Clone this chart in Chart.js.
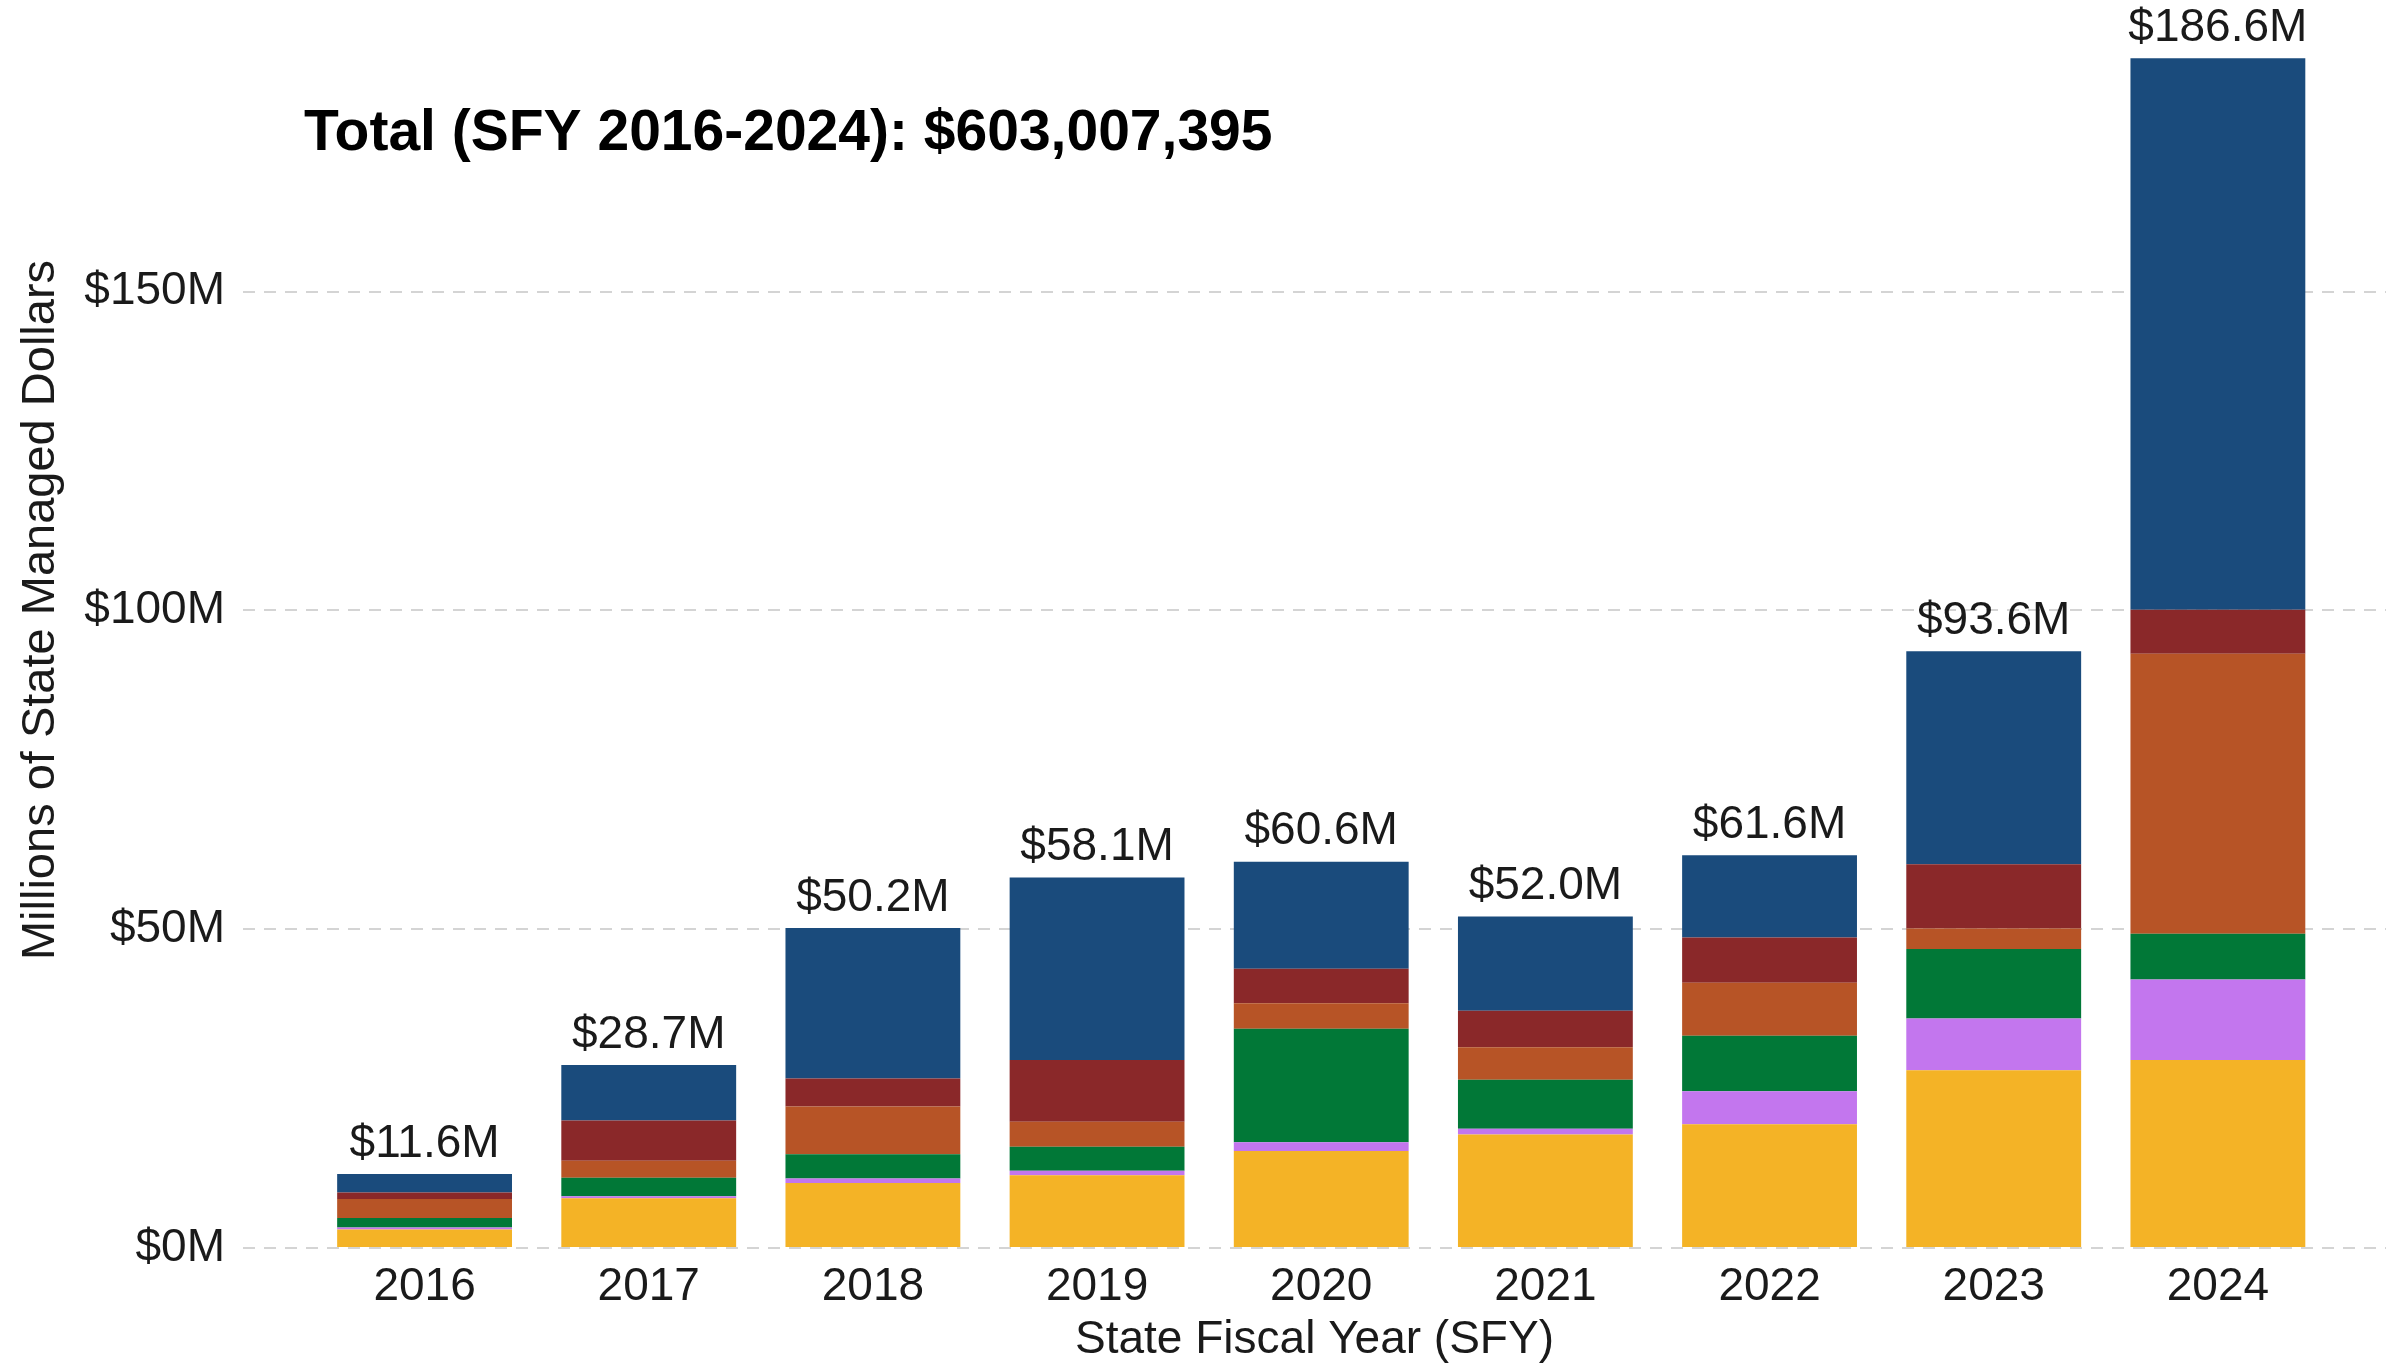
<!DOCTYPE html>
<html>
<head>
<meta charset="utf-8">
<title>State Managed Dollars by SFY</title>
<script src="https://cdn.jsdelivr.net/npm/chart.js@4.4.1/dist/chart.umd.min.js"></script>
<style>
  html, body { margin: 0; padding: 0; background: #fff; }
  canvas { display: block; }
</style>
</head>
<body>
<canvas id="chart-area" width="2386" height="1370"></canvas>
<script>
// data, millions of dollars, stacked bottom to top
var years = [2016, 2017, 2018, 2019, 2020, 2021, 2022, 2023, 2024];
var yellowVals = [2.9, 7.8, 10.2, 11.4, 15.2, 17.8, 19.4, 27.9, 29.5];
var purpleVals = [0.3, 0.3, 0.7, 0.7, 1.4, 0.9, 5.2, 8.1, 12.6];
var greenVals  = [1.5, 2.9, 3.8, 3.8, 17.8, 7.7, 8.7, 10.9, 7.2];
var orangeVals = [3.0, 2.7, 7.5, 3.9, 4.0, 5.1, 8.3, 3.2, 43.9];
var redVals    = [1.0, 6.3, 4.4, 9.7, 5.4, 5.7, 7.1, 10.1, 6.9];
var blueVals   = [2.9, 8.7, 23.6, 28.6, 16.8, 14.8, 12.9, 33.4, 86.5];
var totalLabels = ['$11.6M', '$28.7M', '$50.2M', '$58.1M', '$60.6M', '$52.0M', '$61.6M', '$93.6M', '$186.6M'];
var yTicks = [0, 50, 100, 150];
var headline = 'Total (SFY 2016-2024): $603,007,395';
var yTitle = 'Millions of State Managed Dollars';

var FONT = '"Liberation Sans", Arial, sans-serif';

function makeSet(label, vals, color) {
    return {
        label: label,
        data: vals,
        backgroundColor: color,
        borderWidth: 0,
        barPercentage: 0.78,
        categoryPercentage: 1.0
    };
}

// totals above each bar, the headline and the y title
var totalsPlugin = {
    id: 'totals',
    afterDatasetsDraw: function (chart) {
        var ctx = chart.ctx;
        var xs = chart.scales.x, ys = chart.scales.y;
        ctx.save();
        ctx.fillStyle = '#1a1a1a';
        ctx.font = '46px ' + FONT;
        ctx.textAlign = 'center';
        ctx.textBaseline = 'middle';
        years.forEach(function (yr, i) {
            var sum = yellowVals[i] + purpleVals[i] + greenVals[i] + orangeVals[i] + redVals[i] + blueVals[i];
            ctx.fillText(totalLabels[i], xs.getPixelForValue(yr), ys.getPixelForValue(sum) - 30);
        });

        // y title sits a bit above the plot centre in the original
        ctx.save();
        ctx.translate(41, 610);
        ctx.rotate(-Math.PI / 2);
        ctx.font = '47px ' + FONT;
        ctx.fillText(yTitle, 0, 0);
        ctx.restore();

        ctx.font = 'bold 57px ' + FONT;
        ctx.fillStyle = '#000';
        ctx.textAlign = 'left';
        ctx.fillText(headline, 304, 134);
        ctx.restore();
    }
};

var config = {
    type: 'bar',
    data: {
        labels: years,
        datasets: [
            makeSet('Segment 1', yellowVals, '#f4b326'),
            makeSet('Segment 2', purpleVals, '#c376ee'),
            makeSet('Segment 3', greenVals, '#017837'),
            makeSet('Segment 4', orangeVals, '#b75426'),
            makeSet('Segment 5', redVals, '#8a2829'),
            makeSet('Segment 6', blueVals, '#1a4b7c')
        ]
    },
    options: {
        responsive: false,
        animation: false,
        devicePixelRatio: 1,
        layout: { padding: { top: 27, left: 0, right: 0, bottom: 0 } },
        plugins: {
            legend: { display: false },
            tooltip: { enabled: false }
        },
        scales: {
            x: {
                type: 'linear',
                stacked: true,
                offset: false,
                min: 2015.19,
                max: 2024.75,
                afterBuildTicks: function (scale) {
                    scale.ticks = years.map(function (v) { return { value: v }; });
                },
                afterFit: function (scale) { scale.height = 122; },
                grid: { display: false, drawTicks: false },
                border: { display: false },
                ticks: {
                    padding: 12,
                    color: '#1a1a1a',
                    font: { family: FONT, size: 46 },
                    callback: function (v) { return String(v); }
                },
                title: {
                    display: true,
                    text: 'State Fiscal Year (SFY)',
                    color: '#1a1a1a',
                    font: { family: FONT, size: 46 },
                    padding: { top: 0, bottom: 2 }
                }
            },
            y: {
                stacked: true,
                min: 0,
                max: 188.6,
                afterBuildTicks: function (scale) {
                    scale.ticks = yTicks.map(function (v) { return { value: v }; });
                },
                afterFit: function (scale) { scale.width = 243; },
                grid: { color: '#d4d4d4', lineWidth: 2, drawTicks: false },
                border: { display: false, dash: [12, 9] },
                ticks: {
                    padding: 18,
                    color: '#1a1a1a',
                    font: { family: FONT, size: 46 },
                    callback: function (v) { return '$' + v + 'M'; }
                }
            }
        }
    },
    plugins: [totalsPlugin]
};

window.onload = function () {
    var ctx = document.getElementById('chart-area').getContext('2d');
    window.myBar = new Chart(ctx, config);
};
</script>
</body>
</html>
